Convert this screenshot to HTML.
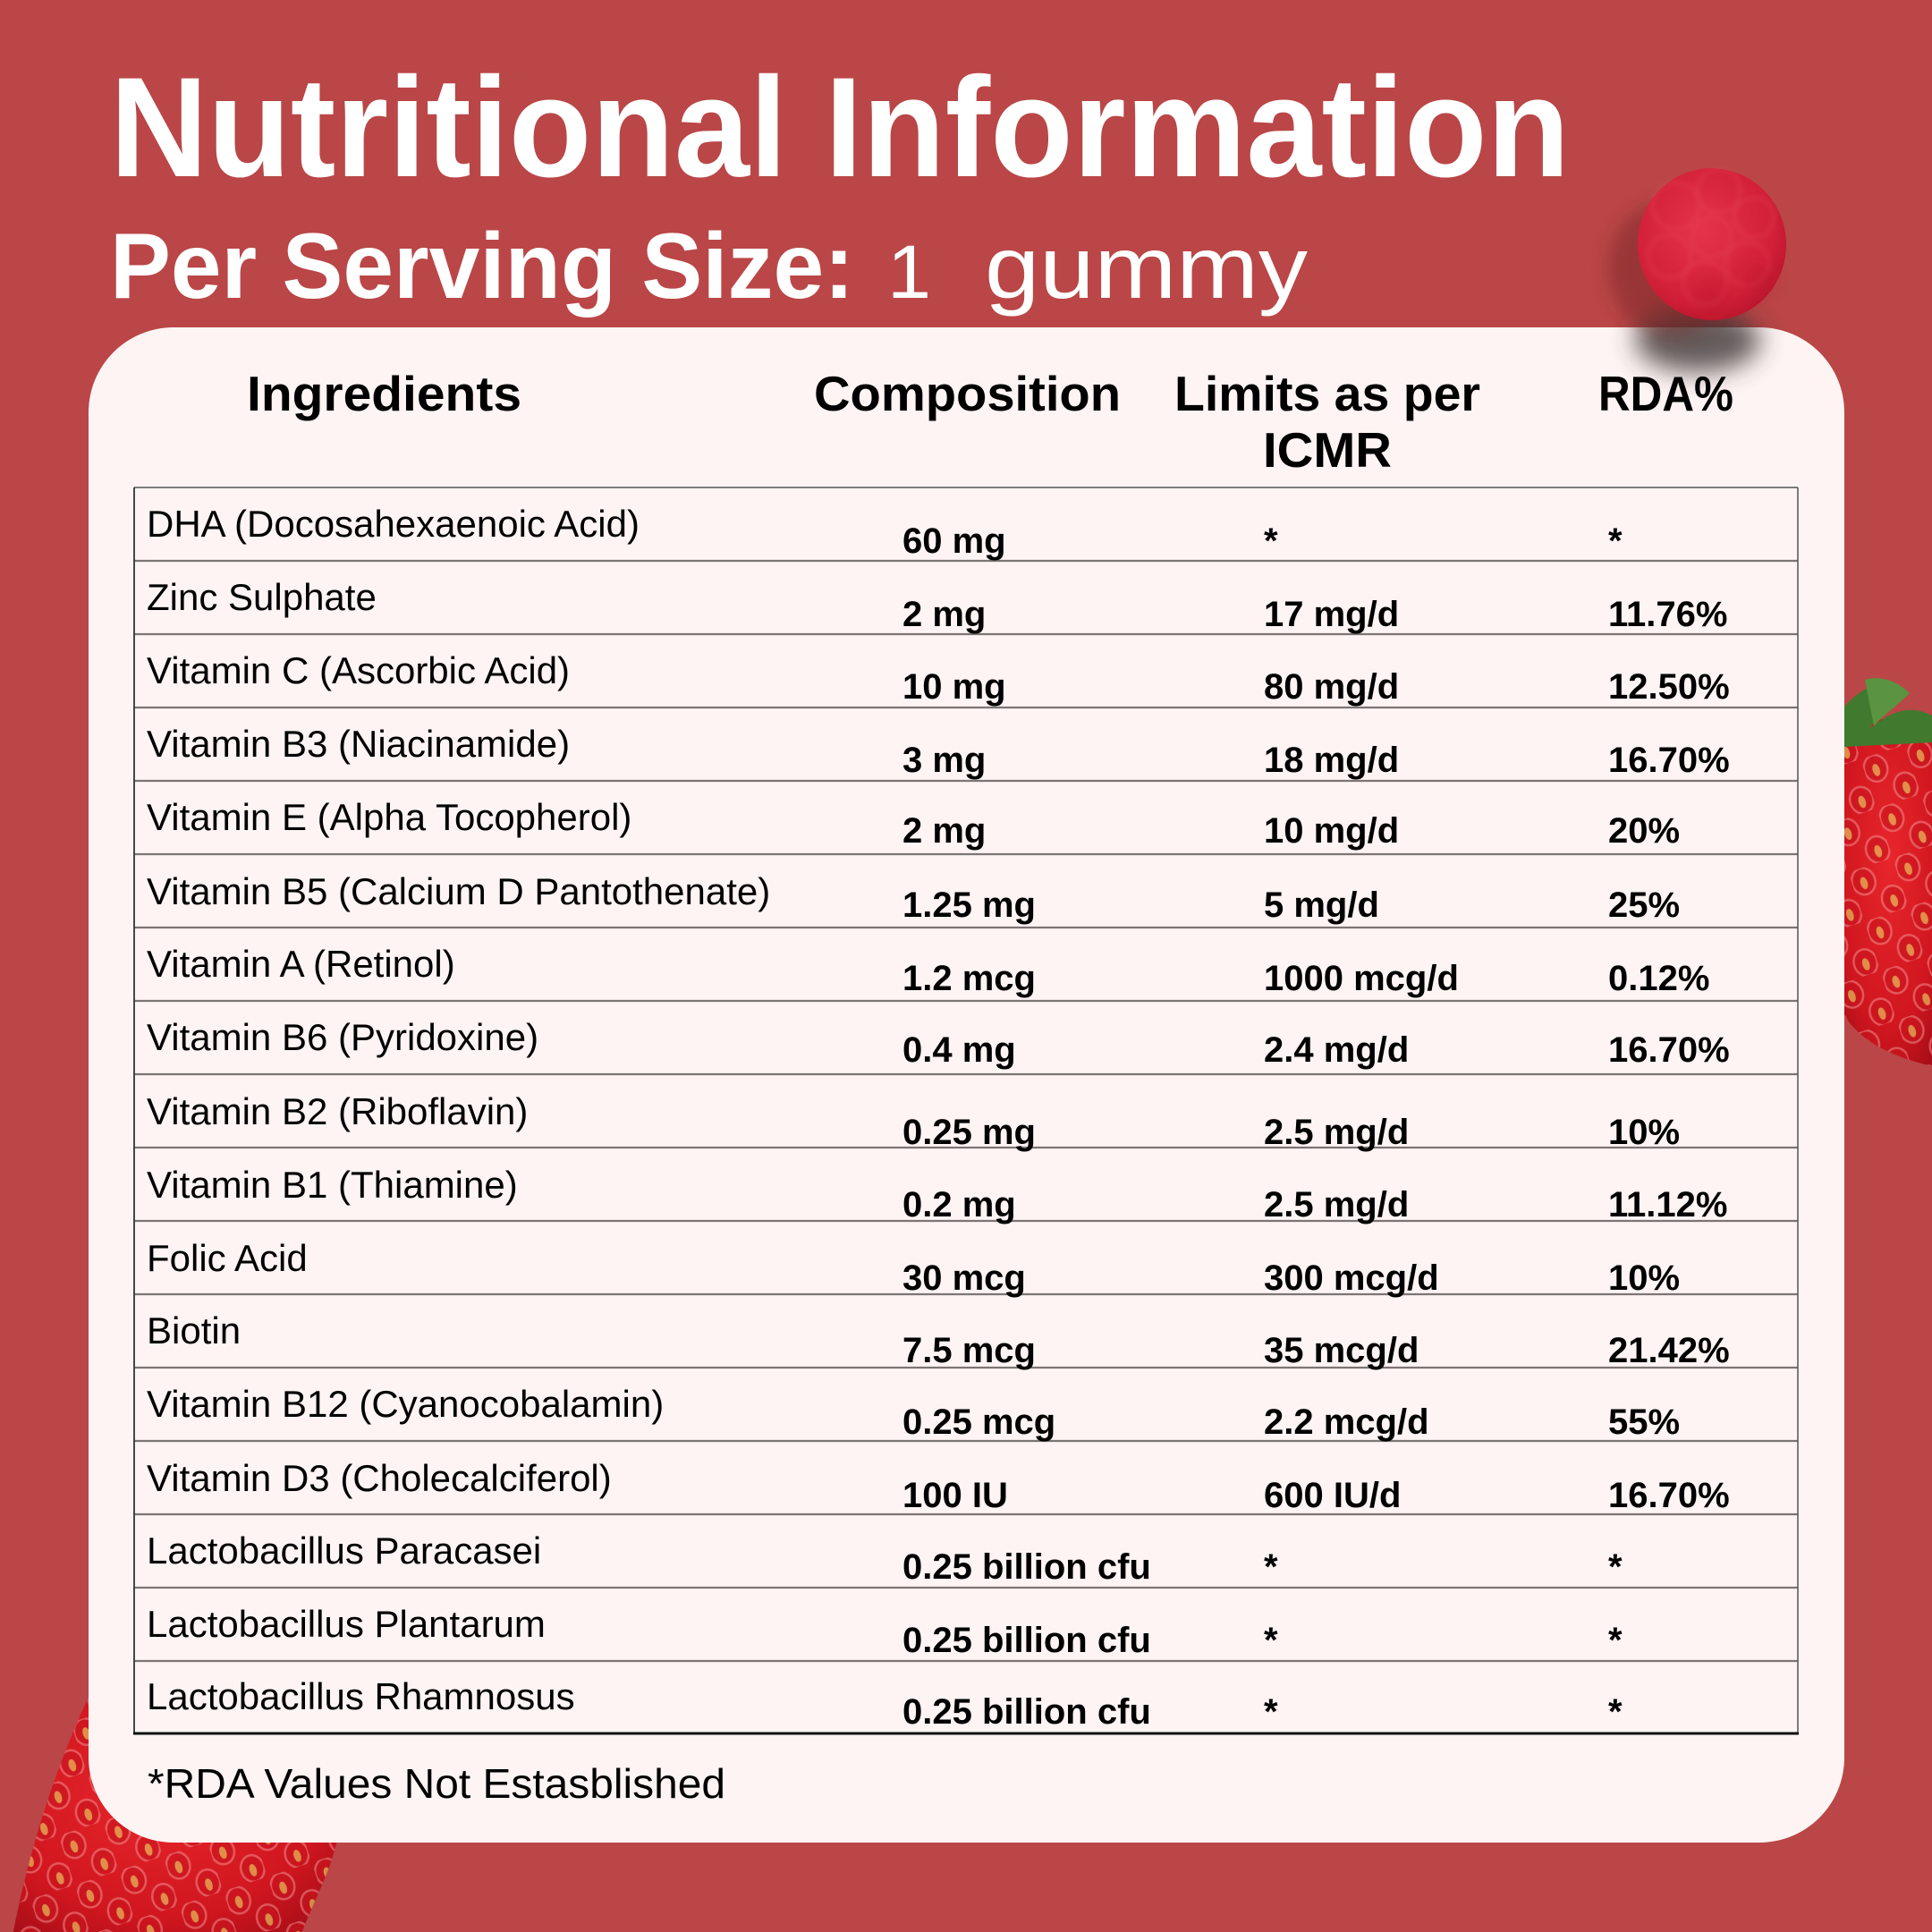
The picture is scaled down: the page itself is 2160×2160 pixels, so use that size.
<!DOCTYPE html>
<html><head><meta charset="utf-8"><style>
html,body{margin:0;padding:0;background:#ba4647;}
svg{display:block;}
text{font-family:"Liberation Sans",Arial,sans-serif;}
</style></head><body>
<svg width="2160" height="2160" viewBox="0 0 2160 2160" xmlns="http://www.w3.org/2000/svg">
<defs>
  <radialGradient id="sb" cx="45%" cy="40%" r="70%">
    <stop offset="0" stop-color="#e8262c"/>
    <stop offset="0.7" stop-color="#d0161f"/>
    <stop offset="1" stop-color="#a80e18"/>
  </radialGradient>
  <pattern id="seeds" width="52" height="58" patternUnits="userSpaceOnUse" patternTransform="rotate(-18)">
    <ellipse cx="13" cy="15" rx="13" ry="15" fill="#c8141d" stroke="#f08a88" stroke-width="2.5" opacity="0.8"/>
    <ellipse cx="13" cy="17" rx="4" ry="7" fill="#e6bf5a"/>
    <ellipse cx="39" cy="44" rx="13" ry="15" fill="#c8141d" stroke="#f08a88" stroke-width="2.5" opacity="0.8"/>
    <ellipse cx="39" cy="46" rx="4" ry="7" fill="#e6bf5a"/>
  </pattern>
  <radialGradient id="rb" cx="45%" cy="40%" r="65%">
    <stop offset="0" stop-color="#e4334a"/>
    <stop offset="0.75" stop-color="#d21f38"/>
    <stop offset="1" stop-color="#b5152b"/>
  </radialGradient>
  <filter id="blur1" x="-50%" y="-50%" width="200%" height="200%"><feGaussianBlur stdDeviation="14"/></filter>
  <filter id="blur2" x="-50%" y="-50%" width="200%" height="200%"><feGaussianBlur stdDeviation="9"/></filter>
  <filter id="blur3" x="-50%" y="-50%" width="200%" height="200%"><feGaussianBlur stdDeviation="3"/></filter>
</defs>

<rect x="0" y="0" width="2160" height="2160" fill="#ba4647"/>

<!-- right strawberry -->
<g>
  <path d="M2062,815 C2090,798 2130,802 2175,818 L2175,1195 C2120,1185 2080,1165 2062,1135 Z" fill="url(#sb)"/>
  <path d="M2062,815 C2090,798 2130,802 2175,818 L2175,1195 C2120,1185 2080,1165 2062,1135 Z" fill="url(#seeds)" opacity="0.7"/>
  <path d="M2062,790 C2080,770 2100,760 2120,765 C2110,780 2100,800 2090,815 C2120,790 2140,790 2160,800 L2160,830 L2062,835 Z" fill="#3f7a2e"/>
  <path d="M2085,760 C2100,755 2120,760 2135,775 C2120,790 2105,800 2095,812 Z" fill="#5a9440"/>
</g>

<!-- bottom-left strawberry -->
<g>
  <path d="M100,1895 C70,1960 35,2050 12,2175 L332,2175 C352,2120 372,2090 378,2050 L378,1895 Z" fill="url(#sb)"/>
  <path d="M100,1895 C70,1960 35,2050 12,2175 L332,2175 C352,2120 372,2090 378,2050 L378,1895 Z" fill="url(#seeds)" opacity="0.7"/>
</g>

<!-- card -->
<rect x="99" y="366" width="1963" height="1694" rx="95" ry="95" fill="#fdf4f3"/>

<!-- gummy shadow -->
<ellipse cx="1898" cy="380" rx="70" ry="36" fill="#3e3434" opacity="0.8" filter="url(#blur1)"/>
<ellipse cx="1868" cy="300" rx="70" ry="75" fill="#7a2528" opacity="0.5" filter="url(#blur2)"/>

<!-- raspberry gummy -->
<g transform="rotate(-8 1914 273)">
  <ellipse cx="1914" cy="273" rx="83" ry="85" fill="url(#rb)"/>
  <g fill="none" stroke="#ec5a6c" stroke-width="3" opacity="0.3" filter="url(#blur3)">
    <circle cx="1880" cy="225" r="26"/>
    <circle cx="1930" cy="215" r="24"/>
    <circle cx="1965" cy="250" r="22"/>
    <circle cx="1915" cy="265" r="22"/>
    <circle cx="1865" cy="280" r="24"/>
    <circle cx="1950" cy="300" r="24"/>
    <circle cx="1900" cy="315" r="24"/>
  </g>
  <g fill="#b3142a" opacity="0.3" filter="url(#blur2)">
    <circle cx="1905" cy="330" r="22"/>
    <circle cx="1960" cy="320" r="18"/>
  </g>
</g>

<!-- title -->
<text x="123" y="197" fill="#ffffff" font-size="159" font-weight="700" textLength="1632" lengthAdjust="spacingAndGlyphs">Nutritional Information</text>
<text x="123" y="333" fill="#ffffff" font-size="104" font-weight="700" textLength="832" lengthAdjust="spacingAndGlyphs">Per Serving Size:</text>
<text x="992" y="333" fill="#ffffff" font-size="84" font-weight="400" textLength="49" lengthAdjust="spacingAndGlyphs">1</text>
<text x="1101" y="333" fill="#ffffff" font-size="98" font-weight="400" textLength="361" lengthAdjust="spacingAndGlyphs">gummy</text>

<!-- headers -->
<g fill="#000" font-size="55" font-weight="700">
  <text x="276" y="459" textLength="307" lengthAdjust="spacingAndGlyphs">Ingredients</text>
  <text x="910" y="459" textLength="343" lengthAdjust="spacingAndGlyphs">Composition</text>
  <text x="1313" y="459" textLength="342" lengthAdjust="spacingAndGlyphs">Limits as per</text>
  <text x="1412" y="522" textLength="144" lengthAdjust="spacingAndGlyphs">ICMR</text>
  <text x="1787" y="459" textLength="151" lengthAdjust="spacingAndGlyphs">RDA%</text>
</g>

<!-- table lines -->
<g stroke="#7d7474" stroke-width="2.2">
  <line x1="150" y1="627" x2="2010" y2="627"/>
  <line x1="150" y1="709" x2="2010" y2="709"/>
  <line x1="150" y1="791" x2="2010" y2="791"/>
  <line x1="150" y1="873" x2="2010" y2="873"/>
  <line x1="150" y1="955" x2="2010" y2="955"/>
  <line x1="150" y1="1037" x2="2010" y2="1037"/>
  <line x1="150" y1="1119" x2="2010" y2="1119"/>
  <line x1="150" y1="1201" x2="2010" y2="1201"/>
  <line x1="150" y1="1283" x2="2010" y2="1283"/>
  <line x1="150" y1="1365" x2="2010" y2="1365"/>
  <line x1="150" y1="1447" x2="2010" y2="1447"/>
  <line x1="150" y1="1529" x2="2010" y2="1529"/>
  <line x1="150" y1="1611" x2="2010" y2="1611"/>
  <line x1="150" y1="1693" x2="2010" y2="1693"/>
  <line x1="150" y1="1775" x2="2010" y2="1775"/>
  <line x1="150" y1="1857" x2="2010" y2="1857"/>
</g>
<line x1="150" y1="545" x2="2010" y2="545" stroke="#555" stroke-width="1.6"/>
<line x1="150" y1="545" x2="150" y2="1939" stroke="#333" stroke-width="1.8"/>
<line x1="2010" y1="545" x2="2010" y2="1939" stroke="#555" stroke-width="1.5"/>
<line x1="149" y1="1938" x2="2011" y2="1938" stroke="#111" stroke-width="3"/>

<!-- names -->
<g fill="#000" font-size="42" font-weight="400">
  <text x="164" y="600">DHA (Docosahexaenoic Acid)</text>
  <text x="164" y="682">Zinc Sulphate</text>
  <text x="164" y="764">Vitamin C (Ascorbic Acid)</text>
  <text x="164" y="846">Vitamin B3 (Niacinamide)</text>
  <text x="164" y="928">Vitamin E (Alpha Tocopherol)</text>
  <text x="164" y="1011">Vitamin B5 (Calcium D Pantothenate)</text>
  <text x="164" y="1092">Vitamin A (Retinol)</text>
  <text x="164" y="1174">Vitamin B6 (Pyridoxine)</text>
  <text x="164" y="1257">Vitamin B2 (Riboflavin)</text>
  <text x="164" y="1339">Vitamin B1 (Thiamine)</text>
  <text x="164" y="1421">Folic Acid</text>
  <text x="164" y="1502">Biotin</text>
  <text x="164" y="1584">Vitamin B12 (Cyanocobalamin)</text>
  <text x="164" y="1667">Vitamin D3 (Cholecalciferol)</text>
  <text x="164" y="1748">Lactobacillus Paracasei</text>
  <text x="164" y="1830">Lactobacillus Plantarum</text>
  <text x="164" y="1911">Lactobacillus Rhamnosus</text>
</g>

<!-- values -->
<g fill="#000" font-size="40" font-weight="700">
  <text x="1009" y="618">60 mg</text><text x="1413" y="618">*</text><text x="1798" y="618">*</text>
  <text x="1009" y="700">2 mg</text><text x="1413" y="700">17 mg/d</text><text x="1798" y="700">11.76%</text>
  <text x="1009" y="781">10 mg</text><text x="1413" y="781">80 mg/d</text><text x="1798" y="781">12.50%</text>
  <text x="1009" y="863">3 mg</text><text x="1413" y="863">18 mg/d</text><text x="1798" y="863">16.70%</text>
  <text x="1009" y="942">2 mg</text><text x="1413" y="942">10 mg/d</text><text x="1798" y="942">20%</text>
  <text x="1009" y="1025">1.25 mg</text><text x="1413" y="1025">5 mg/d</text><text x="1798" y="1025">25%</text>
  <text x="1009" y="1107">1.2 mcg</text><text x="1413" y="1107">1000 mcg/d</text><text x="1798" y="1107">0.12%</text>
  <text x="1009" y="1187">0.4 mg</text><text x="1413" y="1187">2.4 mg/d</text><text x="1798" y="1187">16.70%</text>
  <text x="1009" y="1279">0.25 mg</text><text x="1413" y="1279">2.5 mg/d</text><text x="1798" y="1279">10%</text>
  <text x="1009" y="1360">0.2 mg</text><text x="1413" y="1360">2.5 mg/d</text><text x="1798" y="1360">11.12%</text>
  <text x="1009" y="1442">30 mcg</text><text x="1413" y="1442">300 mcg/d</text><text x="1798" y="1442">10%</text>
  <text x="1009" y="1523">7.5 mcg</text><text x="1413" y="1523">35 mcg/d</text><text x="1798" y="1523">21.42%</text>
  <text x="1009" y="1603">0.25 mcg</text><text x="1413" y="1603">2.2 mcg/d</text><text x="1798" y="1603">55%</text>
  <text x="1009" y="1685">100 IU</text><text x="1413" y="1685">600 IU/d</text><text x="1798" y="1685">16.70%</text>
  <text x="1009" y="1765">0.25 billion cfu</text><text x="1413" y="1765">*</text><text x="1798" y="1765">*</text>
  <text x="1009" y="1847">0.25 billion cfu</text><text x="1413" y="1847">*</text><text x="1798" y="1847">*</text>
  <text x="1009" y="1927">0.25 billion cfu</text><text x="1413" y="1927">*</text><text x="1798" y="1927">*</text>
</g>

<!-- footnote -->
<text x="165" y="2010" fill="#000" font-size="46" font-weight="400" textLength="646" lengthAdjust="spacingAndGlyphs">*RDA Values Not Estasblished</text>
</svg>
</body></html>
